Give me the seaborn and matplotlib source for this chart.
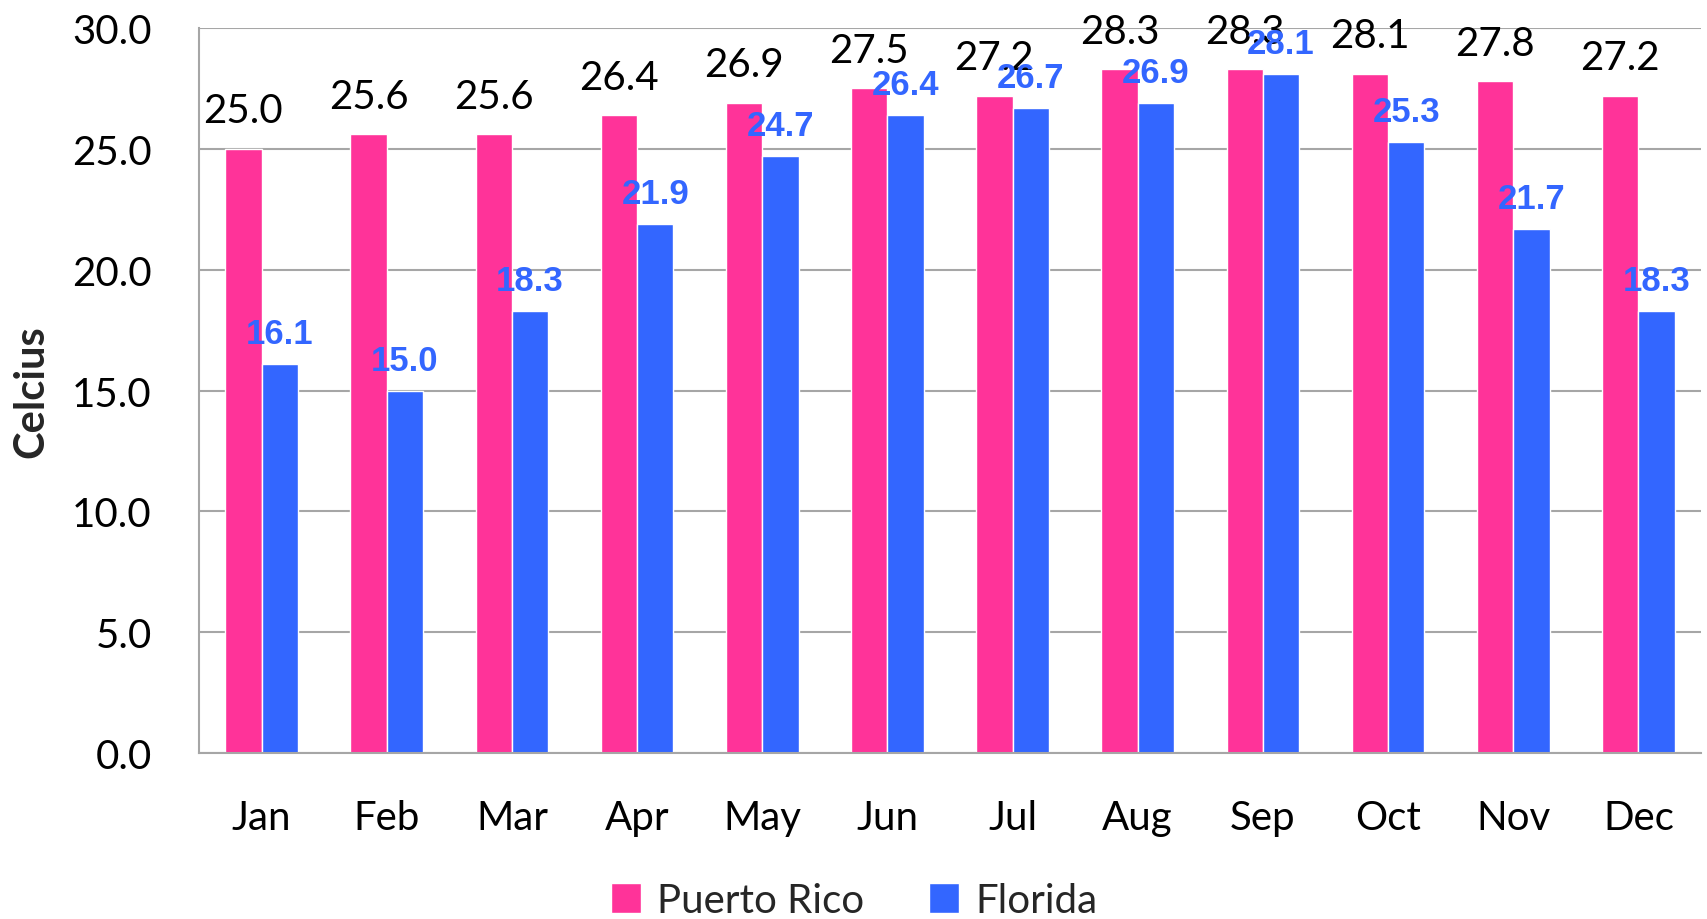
import pandas as pd
import seaborn as sns
import matplotlib.pyplot as plt

months = ["Jan", "Feb", "Mar", "Apr", "May", "Jun", "Jul", "Aug", "Sep", "Oct", "Nov", "Dec"]
puerto_rico = [25.0, 25.6, 25.6, 26.4, 26.9, 27.5, 27.2, 28.3, 28.3, 28.1, 27.8, 27.2]
florida = [16.1, 15.0, 18.3, 21.9, 24.7, 26.4, 26.7, 26.9, 28.1, 25.3, 21.7, 18.3]
series = ["Puerto Rico", "Florida"]
colors = ["#FF3399", "#3366FF"]

df = pd.DataFrame({
    "month": months * 2,
    "temp": puerto_rico + florida,
    "place": [series[0]] * len(months) + [series[1]] * len(months),
})

sns.set_style("white")
plt.rcParams["font.family"] = ["Lato", "DejaVu Sans"]

fig = plt.figure(figsize=(17.08, 9.2), dpi=100)
ax = fig.add_axes([0.1165, 0.1804, 0.8794, 0.7881])

sns.barplot(data=df, x="month", y="temp", hue="place", order=months, hue_order=series,
            palette=colors, width=0.58, saturation=1, ax=ax, legend=True)

ax.set_ylim(0, 30)
ax.set_xlim(-0.5, 11.5)
ax.set_yticks([0, 5, 10, 15, 20, 25, 30])
ax.set_yticklabels([f"{v:.1f}" for v in ax.get_yticks()])
ax.yaxis.grid(True, color="#A6A6A6", linewidth=1.5)
ax.set_axisbelow(True)
for s in ["top", "right"]:
    ax.spines[s].set_visible(False)
for s in ["left", "bottom"]:
    ax.spines[s].set_color("#A6A6A6")
    ax.spines[s].set_linewidth(1.5)
ax.tick_params(axis="both", length=0, labelsize=29, colors="black")
ax.tick_params(axis="y", pad=34)
ax.tick_params(axis="x", pad=33)
ax.set_xlabel("")
ax.set_ylabel("Celcius", fontsize=30, fontweight="bold")
ax.yaxis.set_label_coords(-0.099, 0.5)

pr_bars, fl_bars = ax.containers[0], ax.containers[1]
ax.bar_label(pr_bars, labels=[f"{v:.1f}" for v in puerto_rico], padding=14,
             fontsize=29, color="black", clip_on=False)
ax.bar_label(fl_bars, labels=[f"{v:.1f}" for v in florida], padding=10,
             fontsize=25, color="#3366FF", fontweight="bold",
             family=["Liberation Sans", "DejaVu Sans"], clip_on=False)

handles, labels = ax.get_legend_handles_labels()
ax.get_legend().remove()
fig.legend(handles, labels, loc="center", bbox_to_anchor=(0.5, 0.02), ncol=2,
           frameon=False, fontsize=29, handlelength=0.75, handleheight=0.75,
           handletextpad=0.4, columnspacing=1.6)

fig.savefig("out.png", dpi=100)
